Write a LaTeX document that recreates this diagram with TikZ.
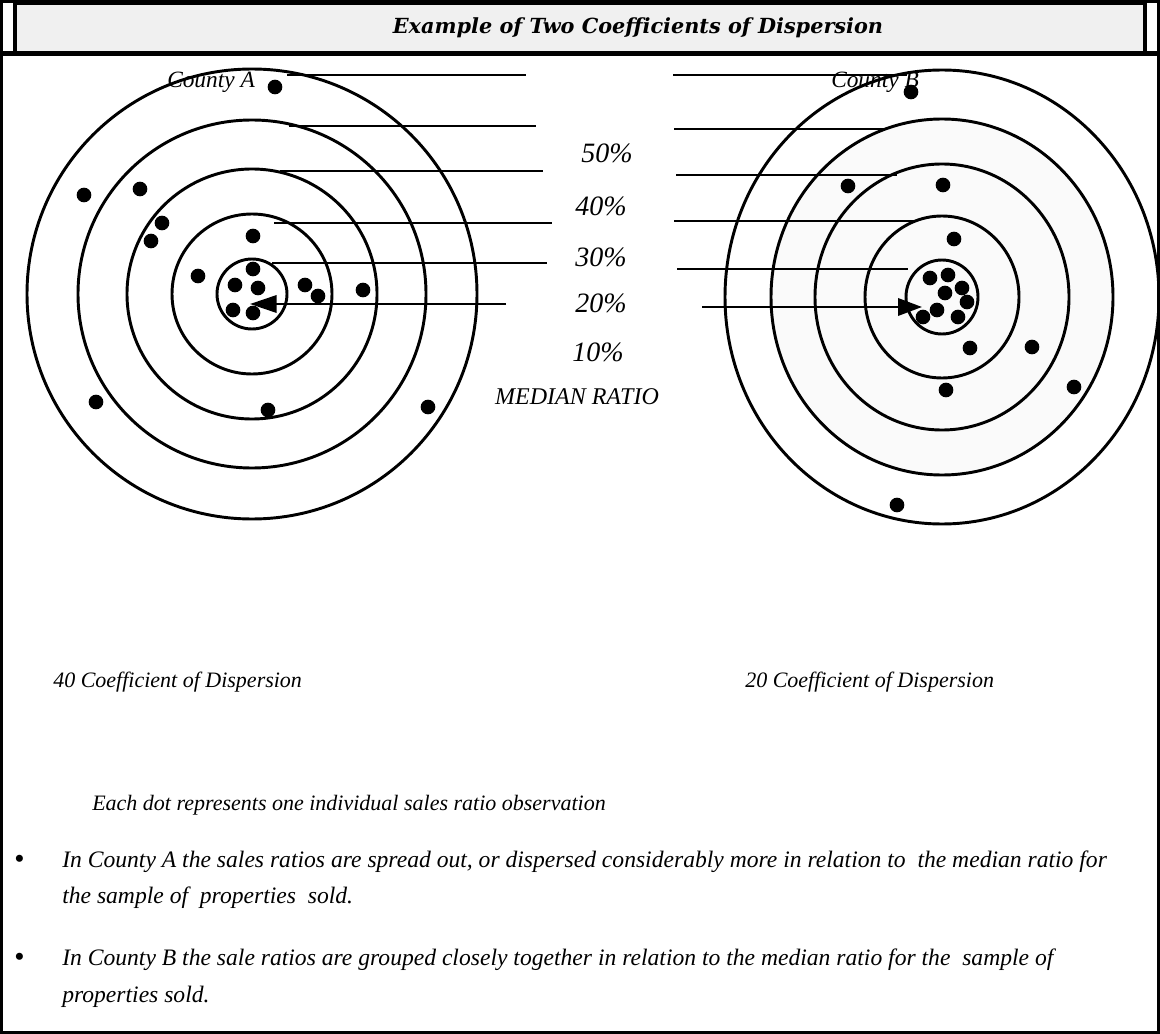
\documentclass[tikz,border=0pt]{standalone}
\usepackage{fontspec}
\setmainfont{Liberation Serif}
\newfontfamily\titlefont{DejaVu Serif}
\usetikzlibrary{arrows.meta}

\tikzset{
  ring/.style={line width=2.2pt},
  lead/.style={line width=1.9pt},
  dot/.style={circle,fill=black,inner sep=0pt,minimum size=11pt},
  pct/.style={font=\fontsize{21}{24}\selectfont\itshape},
  body/.style={font=\fontsize{16.5}{20}\selectfont\itshape,inner sep=0pt},
  bullet/.style={font=\fontsize{17.7}{20}\selectfont\itshape,inner sep=0pt}
}

\begin{document}
\begin{tikzpicture}[x=0.75pt,y=-0.75pt]
\useasboundingbox (0,0) rectangle (1160,1034);

% frame and title bar
\draw[line width=2.2pt] (1.5,1.5) rectangle (1158.5,1032.5);
\draw[line width=3pt,fill=black!6] (14.5,3.5) rectangle (1145,53);
\draw[line width=4pt] (0,53.5) -- (1160,53.5);
\node (title) at (638,28) {\titlefont\fontsize{15.6}{18}\selectfont\bfseries\itshape Example of Two Coefficients of Dispersion};

% County A target
\coordinate (ca) at (252,294);
\draw[ring] (ca) circle[radius=35];
\draw[ring] (ca) circle[radius=80];
\draw[ring] (ca) circle[radius=125];
\draw[ring] (ca) circle[radius=174];
\draw[ring] (ca) circle[radius=225];

% County B target
\coordinate (cb) at (942,297);
\fill[black!2] (cb) ellipse[x radius=171,y radius=178];
\draw[ring] (cb) ellipse[x radius=36,y radius=37];
\draw[ring] (cb) ellipse[x radius=77,y radius=81];
\draw[ring] (cb) ellipse[x radius=127,y radius=133];
\draw[ring] (cb) ellipse[x radius=171,y radius=178];
\draw[ring] (cb) ellipse[x radius=217,y radius=227];

\node[pct,font=\fontsize{17.5}{20}\selectfont\itshape] (countyA) at (211,82) {County A};
\node[pct,font=\fontsize{17.5}{20}\selectfont\itshape] (countyB) at (875,82) {County B};

% leaders
\coordinate (a1s) at (287,75);  \coordinate (a1e) at (526,75);
\coordinate (a2s) at (289,126); \coordinate (a2e) at (536,126);
\coordinate (a3s) at (280,171); \coordinate (a3e) at (543,171);
\coordinate (a4s) at (274,223); \coordinate (a4e) at (552,223);
\coordinate (a5s) at (272,263); \coordinate (a5e) at (547,263);
\coordinate (a6s) at (506,304); \coordinate (a6e) at (250,304);
\draw[lead] (a1s) -- (a1e);
\draw[lead] (a2s) -- (a2e);
\draw[lead] (a3s) -- (a3e);
\draw[lead] (a4s) -- (a4e);
\draw[lead] (a5s) -- (a5e);
\draw[lead,-{Triangle[length=20pt,width=13pt]}] (a6s) -- (a6e);

\coordinate (b1s) at (673,75);  \coordinate (b1e) at (907,75);
\coordinate (b2s) at (674,129); \coordinate (b2e) at (887,129);
\coordinate (b3s) at (676,175); \coordinate (b3e) at (897,175);
\coordinate (b4s) at (674,221); \coordinate (b4e) at (917,221);
\coordinate (b5s) at (677,269); \coordinate (b5e) at (908,269);
\coordinate (b6s) at (702,307); \coordinate (b6e) at (922,307);
\draw[lead] (b1s) -- (b1e);
\draw[lead] (b2s) -- (b2e);
\draw[lead] (b3s) -- (b3e);
\draw[lead] (b4s) -- (b4e);
\draw[lead] (b5s) -- (b5e);
\draw[lead,-{Triangle[length=18pt,width=13pt]}] (b6s) -- (b6e);

% dots A
\node[dot] (da1) at (275,87) {};
\node[dot] (da2) at (84,195) {};
\node[dot] (da3) at (140,189) {};
\node[dot] (da4) at (162,223) {};
\node[dot] (da5) at (151,241) {};
\node[dot] (da6) at (253,236) {};
\node[dot] (da7) at (198,276) {};
\node[dot] (da8) at (253,269) {};
\node[dot] (da9) at (235,285) {};
\node[dot] (da10) at (258,288) {};
\node[dot] (da11) at (233,310) {};
\node[dot] (da12) at (253,313) {};
\node[dot] (da13) at (305,285) {};
\node[dot] (da14) at (318,296) {};
\node[dot] (da15) at (363,290) {};
\node[dot] (da16) at (96,402) {};
\node[dot] (da17) at (268,410) {};
\node[dot] (da18) at (428,407) {};

% dots B
\node[dot] (db1) at (911,92) {};
\node[dot] (db2) at (848,186) {};
\node[dot] (db3) at (943,185) {};
\node[dot] (db4) at (954,239) {};
\node[dot] (db5) at (930,278) {};
\node[dot] (db6) at (948,275) {};
\node[dot] (db7) at (962,288) {};
\node[dot] (db8) at (945,293) {};
\node[dot] (db9) at (967,302) {};
\node[dot] (db10) at (937,310) {};
\node[dot] (db11) at (923,317) {};
\node[dot] (db12) at (958,317) {};
\node[dot] (db13) at (970,348) {};
\node[dot] (db14) at (1032,347) {};
\node[dot] (db15) at (946,390) {};
\node[dot] (db16) at (1074,387) {};
\node[dot] (db17) at (897,505) {};

% percent labels
\node[pct] (p50) at (607,153) {50\%};
\node[pct] (p40) at (601,206) {40\%};
\node[pct] (p30) at (601,257) {30\%};
\node[pct] (p20) at (601,303) {20\%};
\node[pct] (p10) at (598,352) {10\%};
\node[pct,font=\fontsize{18}{20}\selectfont\itshape] (median) at (577,397) {MEDIAN RATIO};

% texts
\node[body,anchor=west] (coefA) at (53,682) {40 Coefficient of Dispersion};
\node[body,anchor=west] (coefB) at (745,682) {20 Coefficient of Dispersion};
\node[body,anchor=west] (each) at (92,805) {Each dot represents one individual sales ratio observation};
\node[bullet,anchor=west,font=\fontsize{22}{22}\selectfont] (bul1) at (14,862) {\textbullet};
\node[bullet,anchor=west] (txt1) at (62,862) {In County A the sales ratios are spread out, or dispersed considerably more in relation to\ \ the median ratio for};
\node[bullet,anchor=west] (txt2) at (62,898) {the sample of\ \ properties\ \ sold.};
\node[bullet,anchor=west,font=\fontsize{22}{22}\selectfont] (bul2) at (14,960) {\textbullet};
\node[bullet,anchor=west] (txt3) at (62,960) {In County B the sale ratios are grouped closely together in relation to the median ratio for the\ \ sample of};
\node[bullet,anchor=west] (txt4) at (62,997) {properties sold.};

\end{tikzpicture}
\end{document}
